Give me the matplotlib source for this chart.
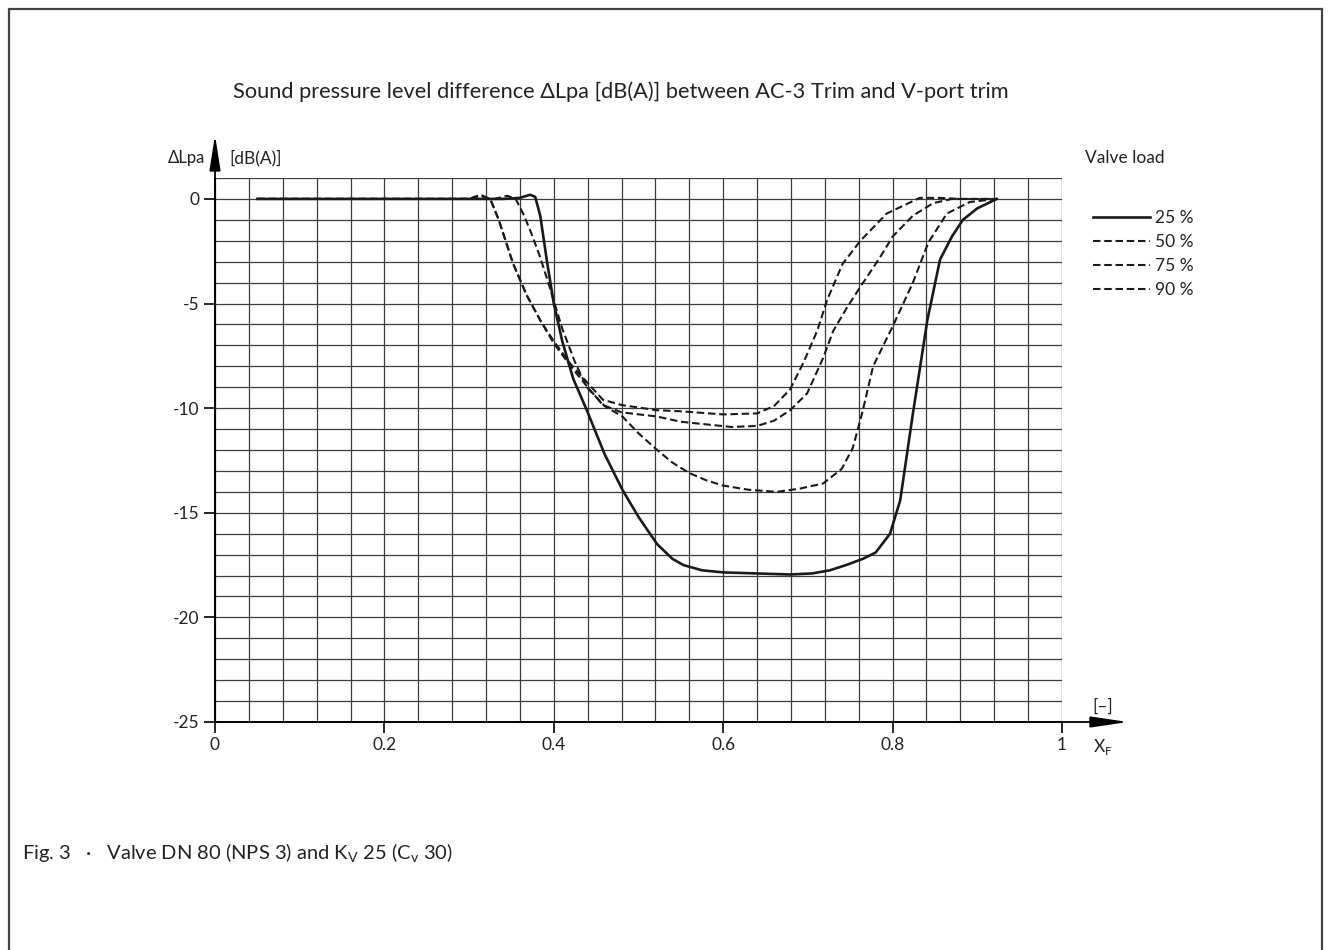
# Sound pressure level difference, AC-3 trim vs V-port trim
import numpy as np
import matplotlib.pyplot as plt
from matplotlib.patches import Rectangle

plt.rcParams['font.family'] = ['Lato', 'DejaVu Sans']
plt.rcParams['axes.unicode_minus'] = False

# curves: xF [-] vs delta Lpa [dB(A)]
x25 = [0.05, 0.10, 0.20, 0.30, 0.34, 0.36, 0.372, 0.378, 0.384, 0.392, 0.40, 0.41,
       0.423, 0.439, 0.46, 0.481, 0.50, 0.522, 0.54, 0.553, 0.575, 0.60, 0.64, 0.679,
       0.705, 0.726, 0.745, 0.765, 0.78, 0.797, 0.809, 0.824, 0.841, 0.856, 0.87,
       0.883, 0.90, 0.923]
y25 = [0, 0, 0, 0, 0, 0.05, 0.2, 0.1, -0.8, -3.0, -5.0, -6.8,
       -8.6, -10.1, -12.2, -13.9, -15.2, -16.5, -17.2, -17.5, -17.75, -17.85, -17.9, -17.95,
       -17.9, -17.75, -17.5, -17.2, -16.9, -16.0, -14.4, -10.25, -5.8, -2.9, -1.8,
       -1.0, -0.45, 0]

x50 = [0.05, 0.20, 0.30, 0.33, 0.345, 0.355, 0.365, 0.375, 0.384, 0.395, 0.41, 0.425,
       0.439, 0.46, 0.481, 0.50, 0.522, 0.54, 0.56, 0.58, 0.60, 0.63, 0.663, 0.69,
       0.718, 0.74, 0.753, 0.764, 0.777, 0.80, 0.824, 0.842, 0.864, 0.891, 0.923]
y50 = [0, 0, 0, 0, 0.15, 0, -0.8, -1.8, -2.8, -4.2, -6.2, -7.8,
       -9.0, -9.9, -10.4, -11.2, -12.0, -12.6, -13.1, -13.45, -13.7, -13.9, -14.0, -13.85,
       -13.6, -12.9, -11.9, -10.25, -8.0, -6.1, -4.0, -2.1, -0.7, -0.15, 0]

x75 = [0.05, 0.20, 0.30, 0.313, 0.325, 0.335, 0.352, 0.368, 0.384, 0.40, 0.42, 0.44,
       0.458, 0.48, 0.522, 0.55, 0.61, 0.64, 0.66, 0.679, 0.699, 0.718, 0.73, 0.746,
       0.762, 0.785, 0.80, 0.824, 0.848, 0.87, 0.923]
y75 = [0, 0, 0, 0.15, 0, -1.0, -3.1, -4.6, -5.8, -6.9, -8.0, -9.0,
       -9.85, -10.2, -10.4, -10.65, -10.9, -10.85, -10.6, -10.1, -9.3, -7.6, -6.3, -5.2,
       -4.2, -2.8, -1.8, -0.8, -0.2, 0, 0]

x90 = [0.05, 0.20, 0.30, 0.313, 0.325, 0.335, 0.352, 0.368, 0.384, 0.40, 0.42, 0.44,
       0.458, 0.48, 0.522, 0.55, 0.60, 0.64, 0.66, 0.679, 0.695, 0.711, 0.723, 0.741,
       0.762, 0.793, 0.832, 0.855, 0.88, 0.923]
y90 = [0, 0, 0, 0.2, 0, -1.0, -3.1, -4.6, -5.8, -6.8, -7.9, -8.8,
       -9.6, -9.85, -10.1, -10.15, -10.3, -10.25, -9.9, -9.1, -7.8, -6.3, -4.8, -3.1,
       -2.0, -0.7, 0.05, 0.05, 0, 0]

labels = ['25 %', '50 %', '75 %', '90 %']
xticks = [0, 0.2, 0.4, 0.6, 0.8, 1]
xticklabels = ['0', '0.2', '0.4', '0.6', '0.8', '1']
yticks = [0, -5, -10, -15, -20, -25]

W, H = 1331, 950
fig = plt.figure(figsize=(W / 100, H / 100), dpi=100)

# page frame, open at the bottom
fig.add_artist(Rectangle((9 / W, -0.2), (1322 - 9) / W, 1.2 - 9 / H,
                         transform=fig.transFigure, fill=False,
                         edgecolor='#444444', lw=1.6))

ax = fig.add_axes([215 / W, 1 - 722 / H, 847 / W, 544 / H])
ax.set_xlim(0, 1)
ax.set_ylim(-25, 1)

ax.set_xticks(xticks)
ax.set_xticklabels(xticklabels)
ax.set_yticks(yticks)
ax.set_xticks(np.arange(0, 1.0001, 0.04), minor=True)
ax.set_yticks(np.arange(-25, 1.5, 1), minor=True)
ax.grid(which='both', color='#3c3c3c', lw=0.9)
ax.tick_params(which='major', direction='out', length=8, width=1.2,
               labelsize=12.5, color='black', labelcolor='#222222', pad=3)
ax.tick_params(which='minor', length=0)
for s in ['top', 'right']:
    ax.spines[s].set_visible(False)
for s in ['left', 'bottom']:
    ax.spines[s].set_linewidth(1.3)
    ax.spines[s].set_zorder(5)

dash = (3.6, 1.8)
ax.plot(x25, y25, color='#1a1a1a', lw=1.9, label=labels[0], zorder=4)
ax.plot(x50, y50, color='#1a1a1a', lw=1.5, dashes=dash, label=labels[1], zorder=4)
ax.plot(x75, y75, color='#1a1a1a', lw=1.5, dashes=dash, label=labels[2], zorder=4)
ax.plot(x90, y90, color='#1a1a1a', lw=1.5, dashes=dash, label=labels[3], zorder=4)

# axis arrows
ax.annotate('', xy=(0, 3.06), xytext=(0, -25), annotation_clip=False,
            arrowprops=dict(arrowstyle='-|>,head_length=1.8,head_width=0.28',
                            mutation_scale=12, lw=1.3, color='black',
                            shrinkA=0, shrinkB=0))
ax.annotate('', xy=(1.078, -25), xytext=(0, -25), annotation_clip=False,
            arrowprops=dict(arrowstyle='-|>,head_length=1.9,head_width=0.28',
                            mutation_scale=12, lw=1.3, color='black',
                            shrinkA=0, shrinkB=0))

leg = ax.legend(loc='upper left', bbox_to_anchor=(1093 / W, 1 - 210 / H),
                bbox_transform=fig.transFigure, frameon=False, fontsize=12.5,
                handlelength=3.3, handletextpad=0.25, labelspacing=0.47,
                borderaxespad=0, borderpad=0)
for t in leg.get_texts():
    t.set_color('#222222')

tc = '#222222'
fig.text(621 / W, 1 - 92 / H,
         'Sound pressure level difference \u0394Lpa [dB(A)] between AC-3 Trim and V-port trim',
         ha='center', va='center', fontsize=15.7, color=tc)
fig.text(205 / W, 1 - 158 / H, '\u0394Lpa', ha='right', va='center', fontsize=12, color=tc)
fig.text(229 / W, 1 - 158 / H, '[dB(A)]', ha='left', va='center', fontsize=12.5, color=tc)
fig.text(1085 / W, 1 - 158 / H, 'Valve load', ha='left', va='center', fontsize=12.5, color=tc)
fig.text(1092 / W, 1 - 707 / H, '[\u2013]', ha='left', va='center', fontsize=12.5, color=tc)
fig.text(1093 / W, 1 - 747 / H, 'X$_\\mathregular{F}$', ha='left', va='center',
         fontsize=12.5, color=tc)
fig.text(22 / W, 1 - 853 / H,
         'Fig. 3   \u00b7   Valve DN 80 (NPS 3) and K$_\\mathregular{V}$ 25 (C$_\\mathregular{v}$ 30)',
         ha='left', va='center', fontsize=14.5, color=tc)

fig.savefig('out.png', dpi=100)
